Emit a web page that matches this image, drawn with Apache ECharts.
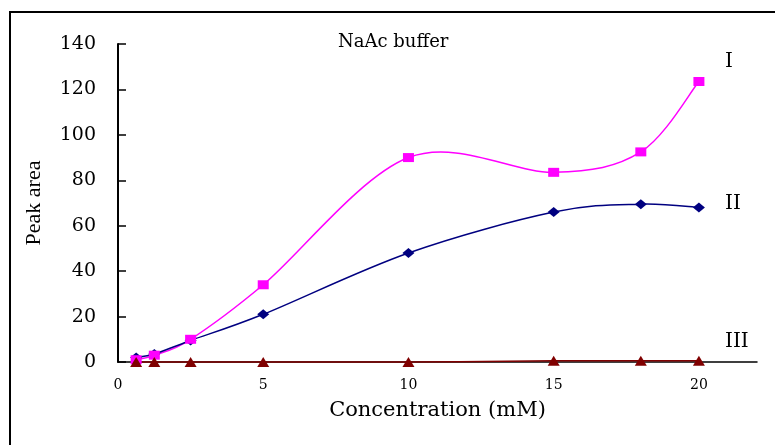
<!DOCTYPE html>
<html>
<head>
    <meta charset="utf-8">
    <title>NaAc buffer</title>
    <script src="https://cdn.jsdelivr.net/npm/echarts@6/dist/echarts.min.js"></script>
</head>
<body style="margin:0;background:#fff;">
<div id="main" style="width: 775px;height:445px;"></div>
<script type="text/javascript">
    // concentration (mM)
    var concentration = [0.625, 1.25, 2.5, 5, 10, 15, 18, 20];
    var seriesI = [1, 3, 10, 34, 90, 83.5, 92.5, 123.5];
    var seriesII = [2, 3.5, 9.5, 21, 48, 66, 69.5, 68];
    var seriesIII = [0, 0, 0, 0, 0, 0.5, 0.5, 0.5];
    var seriesNames = ['I', 'II', 'III'];

    var serif = "'DejaVu Serif', serif";
    var times = "'Liberation Serif', 'Times New Roman', serif";

    function pairs(ys) {
        var out = [];
        for (var i = 0; i < concentration.length; i++) {
            out.push([concentration[i], ys[i]]);
        }
        return out;
    }

    // Excel-like smoothed line: one bezier segment per point, control points
    // from the neighbours (catmull-rom, tension 1/6), in pixel space
    function smoothLine(name, ys, color) {
        return {
            name: name,
            type: 'custom',
            coordinateSystem: 'cartesian2d',
            data: pairs(ys),
            silent: true,
            clip: false,
            z: 2,
            renderItem: function (params, api) {
                var i = params.dataIndex;
                var n = concentration.length;
                if (i >= n - 1) return null;
                function pt(k) {
                    k = Math.max(0, Math.min(n - 1, k));
                    return api.coord([concentration[k], ys[k]]);
                }
                var p0 = pt(i - 1), p1 = pt(i), p2 = pt(i + 1), p3 = pt(i + 2);
                return {
                    type: 'bezierCurve',
                    shape: {
                        x1: p1[0], y1: p1[1],
                        x2: p2[0], y2: p2[1],
                        cpx1: p1[0] + (p2[0] - p0[0]) / 6,
                        cpy1: p1[1] + (p2[1] - p0[1]) / 6,
                        cpx2: p2[0] - (p3[0] - p1[0]) / 6,
                        cpy2: p2[1] - (p3[1] - p1[1]) / 6
                    },
                    style: {stroke: color, lineWidth: 1.5, fill: null}
                };
            }
        };
    }

    function markers(name, ys, symbol, size, color, z) {
        return {
            name: name,
            type: 'scatter',
            data: pairs(ys),
            symbol: symbol,
            symbolSize: size,
            itemStyle: {color: color, opacity: 1},
            z: z
        };
    }

    var myChart = echarts.init(document.getElementById('main'));

    option = {
        animation: false,
        backgroundColor: '#fff',
        title: {
            text: 'NaAc buffer',
            left: 333,
            top: 28,
            textStyle: {fontFamily: serif, fontSize: 18, fontWeight: 'normal', color: '#000'}
        },
        grid: {left: 118, right: 18, top: 44, bottom: 83},
        xAxis: {
            type: 'value',
            min: 0,
            max: 22,
            interval: 5,
            name: 'Concentration (mM)',
            nameLocation: 'middle',
            nameGap: 38,
            nameTextStyle: {fontFamily: serif, fontSize: 21, color: '#000'},
            axisLine: {lineStyle: {color: '#000', width: 1.5}},
            axisTick: {show: false},
            axisLabel: {
                fontFamily: serif, fontSize: 14, color: '#000', margin: 16,
                formatter: function (v) { return v % 5 === 0 ? v : ''; }
            },
            splitLine: {show: false}
        },
        yAxis: {
            type: 'value',
            min: 0,
            max: 140,
            interval: 20,
            name: 'Peak area',
            nameLocation: 'middle',
            nameRotate: 90,
            nameGap: 73,
            nameTextStyle: {fontFamily: times, fontSize: 22, color: '#000'},
            axisLine: {show: true, lineStyle: {color: '#000', width: 2}},
            axisTick: {show: true, inside: true, length: 8, lineStyle: {color: '#000', width: 1.5}},
            axisLabel: {fontFamily: serif, fontSize: 19, color: '#000', margin: 22},
            splitLine: {show: false}
        },
        series: [
            smoothLine(seriesNames[0], seriesI, '#ff00ff'),
            smoothLine(seriesNames[1], seriesII, '#000080'),
            smoothLine(seriesNames[2], seriesIII, '#800000'),
            markers(seriesNames[1], seriesII, 'diamond', [12, 10], '#000080', 3),
            markers(seriesNames[0], seriesI, 'rect', [11, 9], '#ff00ff', 4),
            markers(seriesNames[2], seriesIII, 'triangle', [12, 10], '#800000', 5)
        ],
        graphic: [
            {
                type: 'rect',
                shape: {x: 10, y: 12, width: 800, height: 500},
                style: {fill: 'none', stroke: '#000', lineWidth: 2},
                silent: true
            },
            {type: 'text', left: 725, top: 52, style: {text: seriesNames[0], font: '20px ' + serif, fill: '#000'}},
            {type: 'text', left: 725, top: 194, style: {text: seriesNames[1], font: '20px ' + serif, fill: '#000'}},
            {type: 'text', left: 725, top: 332, style: {text: seriesNames[2], font: '20px ' + serif, fill: '#000'}}
        ]
    };

    myChart.setOption(option);
</script>
</body>
</html>
